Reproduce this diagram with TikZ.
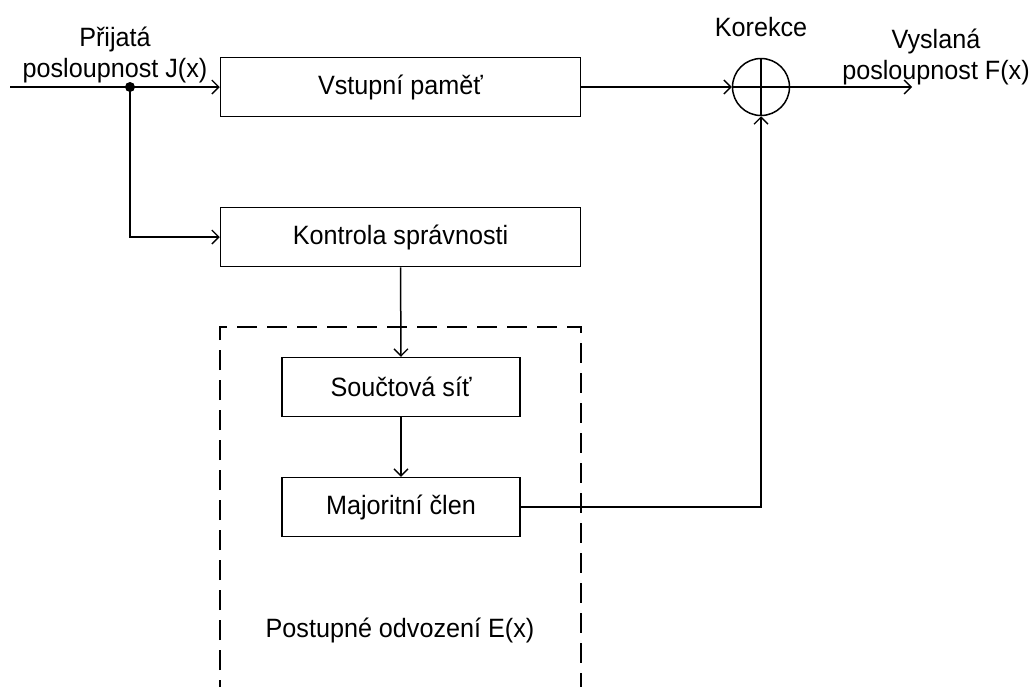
\documentclass[tikz,border=0pt]{standalone}
\usepackage{fontspec}
\setmainfont{Liberation Sans}[FakeStretch=0.95]
\usetikzlibrary{arrows.meta}
\begin{document}
\begin{tikzpicture}[x=1pt,y=-1pt,
  line width=1.5pt,
  txt/.style={font=\fontsize{26.5}{31}\selectfont},
  arr/.style={-{Straight Barb[length=7pt,width=14pt,line width=1.3pt]}},
  blk/.style={draw, txt, minimum width=360pt, minimum height=59pt, inner sep=0pt},
  sblk/.style={draw, txt, minimum width=238pt, minimum height=59pt, inner sep=0pt},
  lbl/.style={txt, align=center, inner sep=0pt}]
\useasboundingbox (0,0) rectangle (1031,686);
\clip (0,0) rectangle (1031,686);

\node[blk] (mem) at (400.5,87) {Vstupní paměť};
\node[blk] (chk) at (400.5,237) {Kontrola správnosti};
\node[sblk] (sum) at (401,387) {Součtová síť};
\node[sblk] (maj) at (401,507) {Majoritní člen};
\node[circle, draw, minimum size=57pt, inner sep=0pt] (xor) at (761,87) {};
\draw (xor.north) -- (xor.south);
\draw (xor.west) -- (xor.east);

\coordinate (in) at (10,87);
\coordinate (out) at (912,87);
\node[circle, fill, inner sep=0pt, minimum size=10pt] (dot) at (130,87) {};

\draw[arr] (in) -- (mem.west);
\draw[arr] (dot.center) |- (chk.west);
\draw[arr] (mem.east) -- (xor.west);
\draw[arr] (xor.east) -- (out);
\draw[arr] (chk.south) -- (sum.north);
\draw[arr] (sum.south) -- (maj.north);
\draw[arr] (maj.east) -| (xor.south);

\draw[dash pattern=on 20pt off 10pt] (220,700) -- (220,327) -- (581,327) -- (581,700);

\node[lbl] (inlbl) at (115,55) {Přijatá\\posloupnost J(x)};
\node[lbl] (korlbl) at (761,27) {Korekce};
\node[lbl] (outlbl) at (936,57) {Vyslaná\\posloupnost F(x)};
\node[lbl] (grp) at (400,630) {Postupné odvození E(x)};
\end{tikzpicture}
\end{document}
